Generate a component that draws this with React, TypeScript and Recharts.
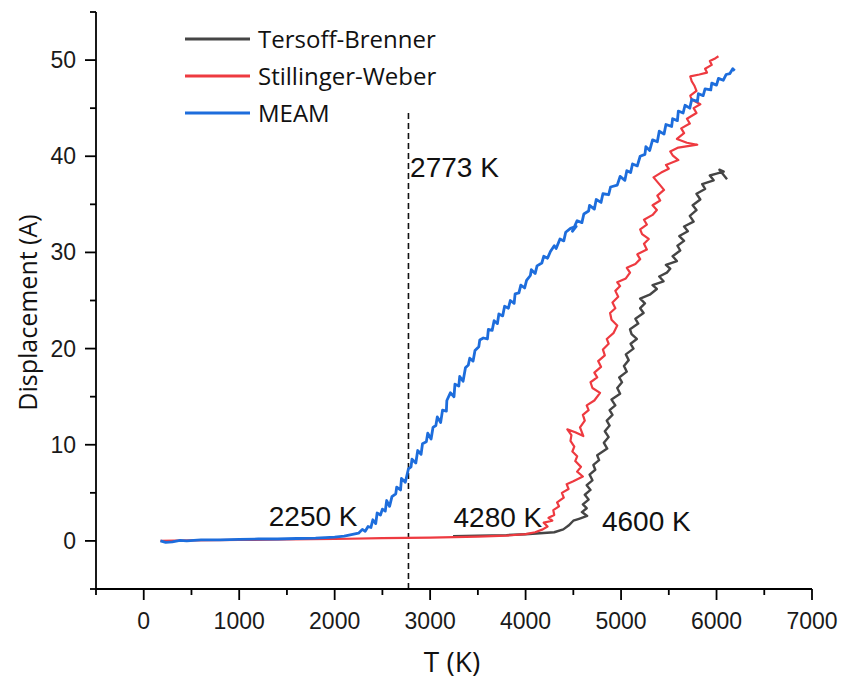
import { LineChart, Line, XAxis, YAxis, Legend, ReferenceLine, ReferenceDot, Label } from "recharts"

// temperature (K) / displacement (A) traces
const tersoffBrenner = [
  [3240, 0.5], [3500, 0.55], [3800, 0.6], [4000, 0.7], [4150, 0.8], [4300, 0.9], [4395, 1.2], [4450, 1.6],
  [4500, 2.1], [4560, 2.3], [4645, 2.6], [4590, 3.0], [4640, 3.4], [4600, 3.8], [4660, 4.3], [4620, 4.8],
  [4680, 5.3], [4640, 5.8], [4700, 6.3], [4670, 6.9], [4730, 7.4], [4710, 7.9], [4770, 8.4], [4750, 8.9],
  [4855, 9.6], [4820, 10.2], [4870, 10.8], [4830, 11.4], [4880, 12.0], [4850, 12.5], [4910, 13.1], [4880, 13.6],
  [4940, 14.1], [4900, 14.7], [4990, 15.3], [4960, 15.9], [5010, 16.5], [4980, 17.0], [5060, 17.6], [5030, 18.2],
  [5080, 18.8], [5050, 19.4], [5130, 20.0], [5100, 20.5], [5165, 21.0], [5110, 21.5], [5094, 22.0], [5180, 22.6],
  [5150, 23.1], [5236, 23.7], [5200, 24.2], [5250, 24.7], [5200, 25.2], [5300, 25.6], [5375, 26.2], [5330, 26.6],
  [5445, 27.0], [5400, 27.5], [5480, 27.9], [5515, 28.3], [5470, 28.7], [5585, 29.1], [5540, 29.6], [5620, 30.2],
  [5590, 30.7], [5660, 31.2], [5610, 31.7], [5700, 32.2], [5660, 32.7], [5760, 33.2], [5720, 33.8], [5790, 34.4],
  [5750, 34.9], [5830, 35.5], [5790, 36.1], [5880, 36.6], [5850, 37.1], [5970, 37.5], [5930, 38.0], [6000, 38.2],
  [6075, 38.4], [6030, 38.6], [6110, 37.6],
]

const stillingerWeber = [
  [175, 0], [500, 0.05], [1000, 0.1], [1500, 0.15], [2000, 0.2], [2500, 0.3], [3000, 0.35], [3500, 0.45],
  [3800, 0.55], [4000, 0.7], [4100, 0.9], [4180, 1.2], [4230, 1.5], [4190, 1.9], [4280, 2.1], [4240, 2.4],
  [4300, 2.7], [4290, 3.2], [4350, 3.6], [4330, 4.0], [4400, 4.5], [4380, 5.0], [4450, 5.4], [4430, 5.9],
  [4500, 6.2], [4600, 6.7], [4540, 7.2], [4580, 7.7], [4520, 8.3], [4540, 8.8], [4490, 9.3], [4510, 9.8],
  [4470, 10.4], [4480, 11.0], [4437, 11.6], [4520, 11.3], [4605, 10.9], [4570, 11.8], [4620, 12.5], [4600, 13.1],
  [4660, 13.6], [4640, 14.1], [4720, 14.6], [4780, 15.4], [4700, 15.9], [4680, 16.5], [4750, 17.0], [4720, 17.5],
  [4790, 18.1], [4760, 18.7], [4830, 19.3], [4810, 19.9], [4870, 20.5], [4850, 21.0], [4920, 21.6], [4960, 22.4],
  [4900, 23.0], [4885, 23.7], [4940, 24.2], [4910, 24.8], [4970, 25.4], [4940, 26.0], [4990, 26.5], [4960, 26.9],
  [5050, 27.3], [5094, 27.9], [5060, 28.4], [5150, 28.8], [5200, 29.3], [5170, 29.8], [5270, 30.3], [5240, 30.9],
  [5290, 31.4], [5220, 31.9], [5200, 32.4], [5270, 32.9], [5240, 33.4], [5330, 33.9], [5375, 34.4], [5330, 34.9],
  [5410, 35.4], [5380, 35.9], [5450, 36.5], [5400, 37.1], [5340, 37.8], [5420, 38.3], [5500, 38.7], [5470, 39.1],
  [5600, 39.6], [5540, 40.1], [5515, 40.5], [5600, 40.9], [5798, 41.2], [5690, 41.4], [5585, 41.8], [5660, 42.4],
  [5630, 42.9], [5720, 43.4], [5690, 43.9], [5790, 44.5], [5760, 45.0], [5830, 45.4], [5740, 45.9], [5725, 46.3],
  [5790, 46.8], [5770, 47.3], [5740, 47.8], [5725, 48.3], [5820, 48.5], [5900, 48.7], [5880, 49.1], [5950, 49.5],
  [5930, 49.9], [5990, 50.2], [6020, 50.4],
]

const meam = [
  [175, 0], [230, -0.15], [300, -0.1], [380, 0.05], [450, 0], [600, 0.1], [800, 0.1], [1000, 0.15],
  [1200, 0.2], [1400, 0.2], [1600, 0.25], [1800, 0.3], [2000, 0.4], [2100, 0.5], [2200, 0.7], [2250, 0.8],
  [2290, 1.2], [2320, 1.0], [2350, 1.5], [2380, 1.4], [2400, 2.2], [2430, 1.8], [2445, 2.9], [2480, 2.7],
  [2500, 3.3], [2530, 3.1], [2545, 4.2], [2575, 3.6], [2600, 4.6], [2640, 4.9], [2650, 5.6], [2690, 5.3],
  [2700, 6.5], [2740, 6.1], [2773, 7.5], [2800, 7.7], [2810, 8.5], [2850, 8.1], [2870, 9.4], [2905, 9.0],
  [2920, 10.1], [2960, 10.3], [2975, 11.2], [3010, 10.6], [3030, 11.8], [3060, 12.0], [3075, 12.9], [3110, 12.3],
  [3130, 13.6], [3170, 13.5], [3175, 14.6], [3212, 15.4], [3250, 15.0], [3260, 16.3], [3300, 16.1], [3310, 17.1],
  [3345, 16.6], [3370, 18.0], [3400, 18.3], [3415, 19.0], [3450, 18.7], [3470, 19.8], [3510, 20.2], [3520, 20.9],
  [3557, 21.1], [3600, 21.0], [3610, 22.0], [3650, 21.9], [3670, 22.9], [3705, 22.6], [3720, 23.6], [3760, 23.4],
  [3780, 24.4], [3820, 24.2], [3840, 25.0], [3880, 24.7], [3890, 25.7], [3930, 25.8], [3950, 26.6], [3990, 26.3],
  [4010, 27.1], [4050, 27.6], [4060, 28.2], [4100, 27.8], [4120, 28.6], [4170, 28.9], [4190, 29.6], [4230, 29.4],
  [4260, 30.1], [4300, 30.7], [4320, 30.4], [4360, 31.4], [4400, 31.2], [4420, 32.1], [4470, 32.5], [4530, 32.7],
  [4490, 32.2], [4540, 33.3], [4590, 33.1], [4610, 34.0], [4660, 34.3], [4670, 34.9], [4720, 34.5], [4740, 35.5],
  [4790, 35.2], [4810, 36.1], [4870, 36.0], [4890, 36.8], [4960, 37.0], [4990, 37.9], [5040, 37.5], [5060, 38.5],
  [5100, 38.3], [5120, 39.2], [5170, 39.0], [5200, 40.0], [5250, 40.2], [5260, 41.0], [5300, 40.6], [5330, 41.7],
  [5380, 41.5], [5400, 42.6], [5450, 42.3], [5470, 43.3], [5530, 43.1], [5540, 43.9], [5590, 43.7], [5600, 44.7],
  [5650, 44.5], [5670, 45.3], [5720, 45.0], [5740, 45.9], [5800, 45.7], [5810, 46.5], [5860, 46.3], [5880, 47.0],
  [5940, 46.9], [5950, 47.6], [6000, 47.4], [6020, 48.1], [6070, 47.9], [6100, 48.5], [6140, 48.6], [6170, 49.1],
  [6190, 48.9],
]

const seriesNames = ["Tersoff-Brenner", "Stillinger-Weber", "MEAM"]
const seriesColors = ["#454545", "#ee3a40", "#1d6ddc"]

const xTicks = [-500, 0, 500, 1000, 1500, 2000, 2500, 3000, 3500, 4000, 4500, 5000, 5500, 6000, 6500, 7000]
const yTicks = [-5, 0, 5, 10, 15, 20, 25, 30, 35, 40, 45, 50, 55]

const meltLine = 2773
// annotation text anchors (left edge / baseline) in data units
const annotations = [
  { text: "2773 K", x: 2790, y: 37.8 },
  { text: "2250 K", x: 1310, y: 1.5 },
  { text: "4280 K", x: 3245, y: 1.4 },
  { text: "4600 K", x: 4800, y: 1.0 },
]

const toRows = (pts: number[][]) => pts.map(([x, y]) => ({ x, y }))

const TICK_FONT = "'Liberation Sans', Arial, sans-serif"
const TITLE_FONT = "'Open Sans', 'Liberation Sans', sans-serif"

function XTick({ x, y, payload }: any) {
  const major = payload.value % 1000 === 0 && payload.value >= 0
  return (
    <g>
      <line x1={x} x2={x} y1={y} y2={y + (major ? 11 : 6)} stroke="#000" strokeWidth={1.8} />
      {major && (
        <text x={x} y={y + 40} textAnchor="middle" fontSize={23} fontFamily={TICK_FONT} fill="#1a1a1a">
          {payload.value}
        </text>
      )}
    </g>
  )
}

function YTick({ x, y, payload }: any) {
  const major = payload.value % 10 === 0
  return (
    <g>
      <line x1={x} x2={x - (major ? 11 : 6)} y1={y} y2={y} stroke="#000" strokeWidth={1.8} />
      {major && (
        <text x={x - 20} y={y + 8} textAnchor="end" fontSize={23} fontFamily={TICK_FONT} fill="#1a1a1a">
          {payload.value}
        </text>
      )}
    </g>
  )
}

function LegendBox({ payload }: any) {
  const items = [...(payload || [])].sort(
    (a: any, b: any) => seriesNames.indexOf(a.value) - seriesNames.indexOf(b.value)
  )
  return (
    <div>
      {items.map((item: any) => (
        <div key={item.value} style={{ display: "flex", alignItems: "center", height: 37 }}>
          <svg width={70} height={8}>
            <line x1={2} x2={67} y1={4} y2={4} stroke={item.color} strokeWidth={3} />
          </svg>
          <span style={{ marginLeft: 5, fontSize: 24, fontFamily: TITLE_FONT, color: "#111", lineHeight: "37px" }}>
            {item.value}
          </span>
        </div>
      ))}
    </div>
  )
}

const seriesData = [tersoffBrenner, stillingerWeber, meam]
const seriesWidths = [2.4, 2.2, 2.8]

export default function App() {
  return (
    <div style={{ position: "absolute", left: 0, top: 0, background: "#fff" }}>
      <LineChart width={843} height={680} margin={{ top: 12, right: 31, bottom: 0, left: 0 }}>
        <XAxis
          dataKey="x"
          type="number"
          domain={[-500, 7000]}
          ticks={xTicks}
          interval={0}
          allowDataOverflow
          height={91}
          tickSize={0}
          tickMargin={0}
          tickLine={false}
          tick={<XTick />}
          axisLine={{ stroke: "#000", strokeWidth: 1.8 }}
        >
          <Label
            content={({ viewBox }: any) => (
              <text
                x={viewBox.x + viewBox.width / 2 - 2}
                y={viewBox.y + 83}
                textAnchor="middle"
                fontSize={28}
                fontFamily={TITLE_FONT}
                fill="#111"
              >
                T (K)
              </text>
            )}
          />
        </XAxis>
        <YAxis
          dataKey="y"
          type="number"
          domain={[-5, 55]}
          ticks={yTicks}
          interval={0}
          allowDataOverflow
          width={96}
          tickSize={0}
          tickMargin={0}
          tickLine={false}
          tick={<YTick />}
          axisLine={{ stroke: "#000", strokeWidth: 1.8 }}
        >
          <Label
            content={({ viewBox }: any) => {
              const cx = viewBox.x + 27
              const cy = viewBox.y + viewBox.height / 2 + 12
              return (
                <text
                  x={cx}
                  y={cy}
                  transform={`rotate(-90 ${cx} ${cy})`}
                  textAnchor="middle"
                  dominantBaseline="central"
                  fontSize={25}
                  fontFamily={TITLE_FONT}
                  fill="#111"
                >
                  Displacement (A)
                </text>
              )
            }}
          />
        </YAxis>
        <Legend
          layout="vertical"
          align="center"
          verticalAlign="middle"
          content={<LegendBox />}
          wrapperStyle={{ top: 20, left: 183, width: 300 }}
        />
        <ReferenceLine
          segment={[{ x: meltLine, y: -5 }, { x: meltLine, y: 44.5 }]}
          stroke="#111"
          strokeWidth={1.6}
          strokeDasharray="6 4"
        />
        {seriesNames.map((name, i) => (
          <Line
            key={name}
            name={name}
            data={toRows(seriesData[i])}
            dataKey="y"
            stroke={seriesColors[i]}
            strokeWidth={seriesWidths[i]}
            strokeLinejoin="round"
            dot={false}
            isAnimationActive={false}
          />
        ))}
        {annotations.map((a) => (
          <ReferenceDot
            key={a.text}
            x={a.x}
            y={a.y}
            r={0}
            shape={(p: any) => (
              <text x={p.cx} y={p.cy} fontSize={28} fontFamily={TICK_FONT} fill="#111">
                {a.text}
              </text>
            )}
          />
        ))}
      </LineChart>
    </div>
  )
}
